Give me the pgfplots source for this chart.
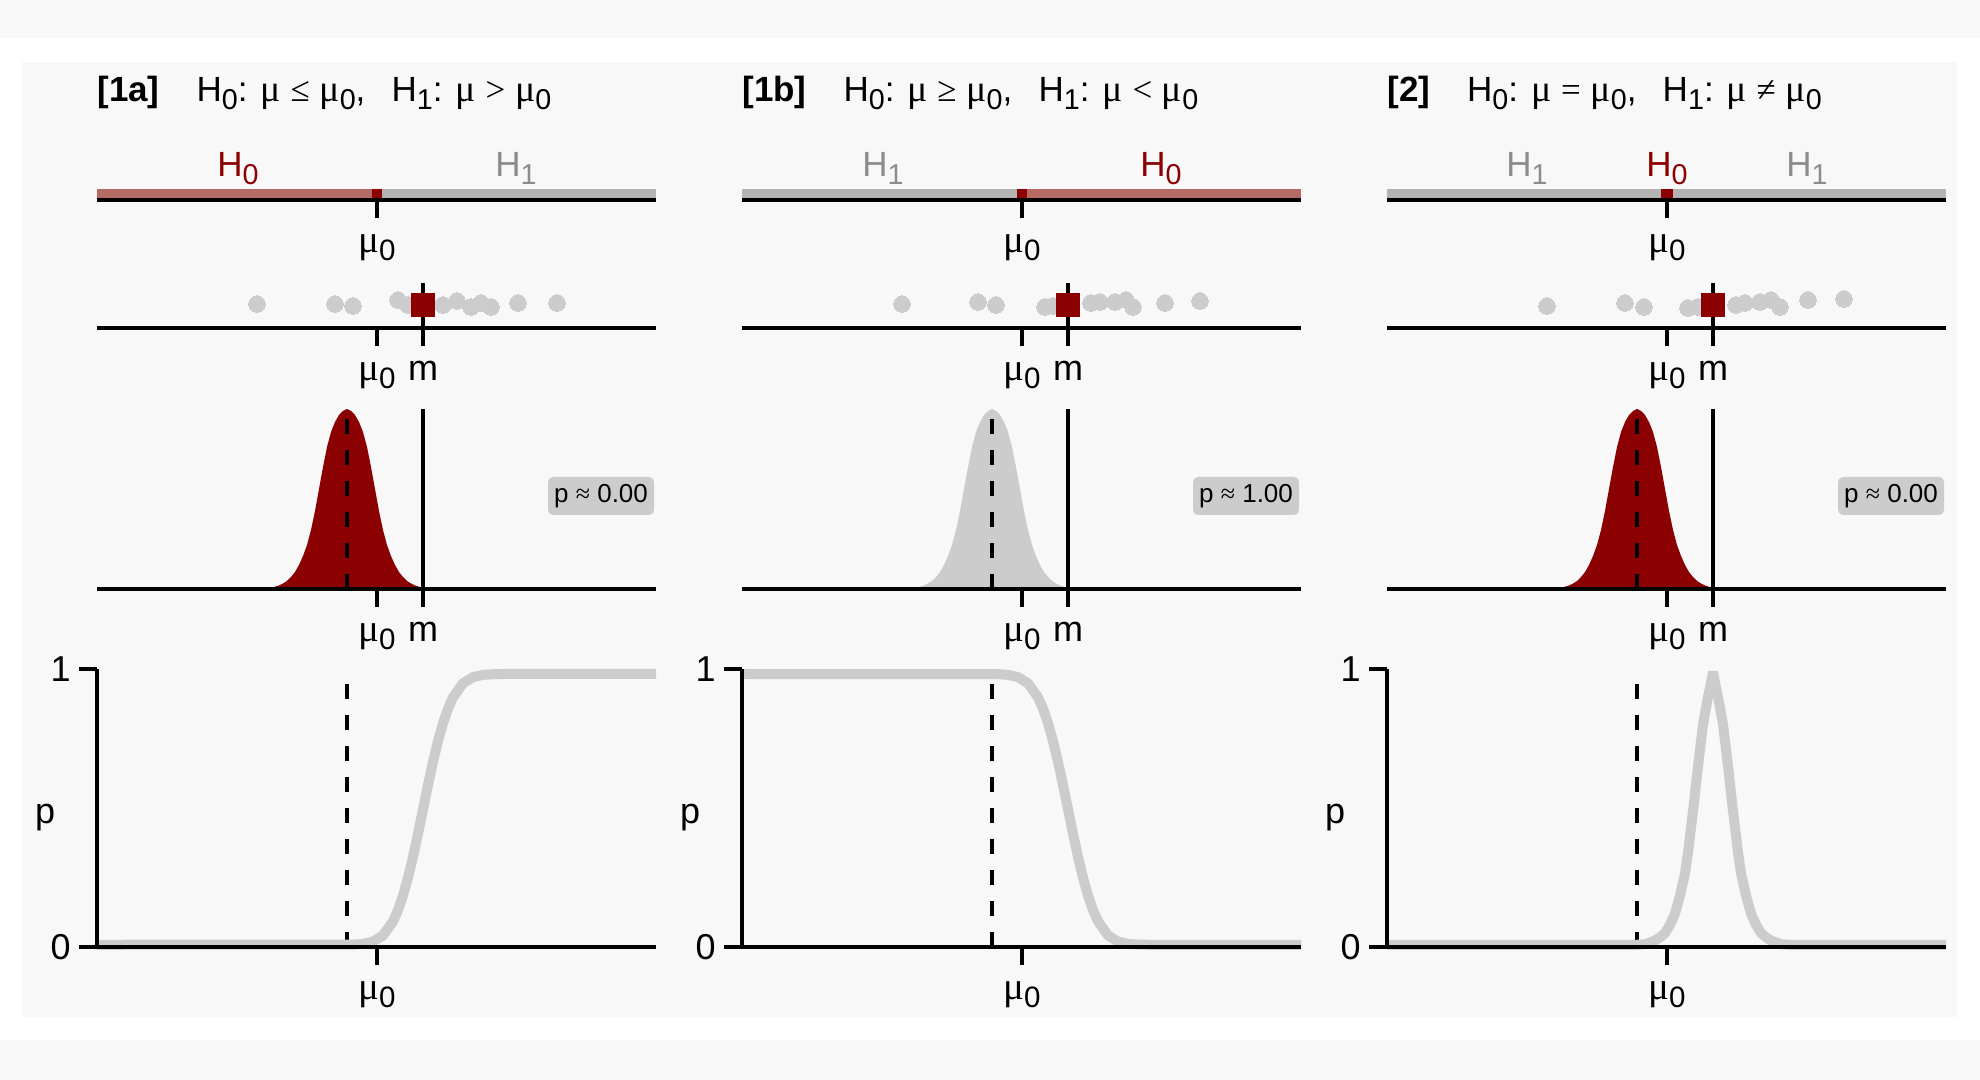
\documentclass[border=0pt]{standalone}
\usepackage{pgfplots}
\pgfplotsset{compat=1.18}
\usepackage{fontspec}
\usepackage{graphicx}
\setmainfont{Liberation Sans}
\newfontfamily\sym{Liberation Serif}
\definecolor{dred}{HTML}{8B0000}
\definecolor{bred}{HTML}{B56A64}
\definecolor{bgray}{HTML}{B3B3B3}
\definecolor{lgray}{HTML}{CCCCCC}
\definecolor{hgray}{HTML}{8C8C8C}
\definecolor{panel}{HTML}{F8F8F8}
\newcommand{\sub}[1]{\raisebox{-0.22em}{\scalebox{0.82}{#1}}}
\newcommand{\mug}{{\sym\scalebox{1.08}{μ}}}
\newcommand{\muz}{\mug\sub{0}}
\newcommand{\Hz}{H\sub{0}}
\newcommand{\Ho}{H\sub{1}}
\newcommand{\tfont}{\fontsize{17.5}{21}\selectfont}
\newcommand{\lfont}{\fontsize{18}{21}\selectfont}
\newcommand{\pfont}{\fontsize{13}{15}\selectfont}

\pgfplotsset{
  every non boxed x axis/.style={},
  every non boxed y axis/.style={},
  base/.style={scale only axis, width=279.5pt, xmin=-280, xmax=279, clip=false,
    enlargelimits=false, axis on top, anchor=south west,
    axis x line=bottom,
    axis line style={-, line width=1.8pt, black},
    x axis line style={-}, y axis line style={-},
    tick style={line width=1.8pt, black}, major tick length=9pt, tick align=outside,
    tick label style={font=\lfont, inner sep=0pt},
    xticklabel style={anchor=base, yshift=-17.5pt},
    yticklabel style={anchor=east, xshift=-4pt}},
  row1/.style={base, height=25pt, ymin=0, ymax=50, axis y line=none, ytick=\empty,
    xtick={0}, xticklabels={\muz}},
  row2/.style={base, height=30pt, ymin=0, ymax=60, axis y line=none, ytick=\empty,
    xtick={0,46}, xticklabels={\muz, m}},
  row3/.style={base, height=90pt, ymin=0, ymax=180, axis y line=none, ytick=\empty,
    xtick={0,46}, xticklabels={\muz, m}},
  row4/.style={base, height=139pt, ymin=0, ymax=1, axis y line=left,
    xtick={0}, xticklabels={\muz}, ytick={0,1}, yticklabels={0,1},
    ylabel={p}, ylabel style={rotate=-90, font=\lfont, at={(axis description cs:-0.093,0.464)}, anchor=center}},
  pts/.style={only marks, color=lgray, mark=*, mark size=4.15pt, mark options={draw=lgray, fill=lgray, line width=0pt}},
  msq/.style={only marks, color=dred, mark=square*, mark size=5.8pt, mark options={draw=dred, fill=dred, line width=0pt}},
  vline/.style={black, line width=1.8pt},
  dline/.style={black, line width=1.8pt, dash pattern=on 7.5pt off 8pt},
  pcurve/.style={lgray, line width=5pt, line join=bevel},
}

\pgfplotstableread{
x y
-103 0
-103 2
-98 3.5
-94 5.5
-90 8
-86 12
-82 17
-78 24
-74 33
-70 44
-66 59
-62 78
-58 100
-54 122
-50 142
-46 157
-42 167
-38 174
-34 178
-30 180
-26 178
-22 174
-18 167
-14 157
-10 142
-6 122
-2 100
2 78
6 59
10 44
14 33
18 24
22 17
26 12
30 8
34 5.5
38 3.5
43 2
43 0
}\dens

\pgfplotstableread{
x y
-280 0.008
-24 0.0087
-14 0.0111
-4 0.0192
6 0.0416
16 0.0921
21 0.1327
26 0.185
31 0.2493
36 0.3243
41 0.4073
46 0.495
51 0.5827
56 0.6657
61 0.7407
66 0.805
71 0.8573
76 0.898
86 0.9484
96 0.9708
106 0.9789
116 0.9813
126 0.982
279 0.982
}\pa

\pgfplotstableread{
x y
-280 0.982
-24 0.9813
-14 0.9789
-4 0.9708
6 0.9484
16 0.898
21 0.8573
26 0.805
31 0.7407
36 0.6657
41 0.5827
46 0.495
51 0.4073
56 0.3243
61 0.2493
66 0.185
71 0.1327
76 0.0921
86 0.0416
96 0.0192
106 0.0111
116 0.0087
126 0.008
279 0.008
}\pb

\pgfplotstableread{
x y
-280 0.008
-30 0.008
-22 0.010
-14 0.02
-8 0.032
-2 0.05
3 0.08
8 0.12
13 0.185
18 0.265
21 0.34
24 0.43
27 0.52
30 0.62
33 0.71
36 0.80
38.5 0.85
41 0.90
43.5 0.94
46 0.99
48.5 0.94
51 0.90
53.5 0.85
56 0.80
59 0.71
62 0.62
65 0.52
68 0.43
71 0.34
74 0.265
79 0.185
84 0.12
89 0.08
94 0.05
100 0.032
106 0.02
114 0.010
122 0.008
279 0.008
}\pc

\begin{document}
\begin{tikzpicture}
\useasboundingbox (0,0) rectangle (990pt,540pt);
\fill[white] (0,0) rectangle (990pt,540pt);
\fill[panel] (0,521pt) rectangle (990pt,540pt);
\fill[panel] (0,0) rectangle (990pt,20pt);
\fill[panel] (11pt,31.5pt) rectangle (978.5pt,509pt);

% titles
\node[anchor=base west, font=\tfont, inner sep=0pt] at (48.5pt,489pt)
  {\textbf{[1a]}\hspace{18.5pt}\Hz: \mug{} {\sym ≤} \muz,\hspace{0.75em}\Ho: \mug{} {\sym >} \muz};
\node[anchor=base west, font=\tfont, inner sep=0pt] at (371pt,489pt)
  {\textbf{[1b]}\hspace{18.5pt}\Hz: \mug{} {\sym ≥} \muz,\hspace{0.75em}\Ho: \mug{} {\sym <} \muz};
\node[anchor=base west, font=\tfont, inner sep=0pt] at (693.5pt,489pt)
  {\textbf{[2]}\hspace{18.5pt}\Hz: \mug{} {\sym =} \muz,\hspace{0.75em}\Ho: \mug{} {\sym ≠} \muz};

% ================= column 1 =================
\begin{axis}[row1, at={(48.5pt,440pt)}]
\addplot[fill=bred, draw=none] coordinates {(-280,1.8) (0,1.8) (0,11) (-280,11)} -- cycle;
\addplot[fill=bgray, draw=none] coordinates {(0,1.8) (279,1.8) (279,11) (0,11)} -- cycle;
\addplot[fill=dred, draw=none] coordinates {(-5,1.8) (5,1.8) (5,11) (-5,11)} -- cycle;
\node[anchor=base, text=dred, font=\tfont, inner sep=0pt] at (axis cs:-139,23) {\Hz};
\node[anchor=base, text=hgray, font=\tfont, inner sep=0pt] at (axis cs:139,23) {\Ho};
\end{axis}
\begin{axis}[row2, at={(48.5pt,376pt)}]
\addplot[pts] coordinates {(-120,24) (-42,24) (-24,22) (21,28) (31,23) (66,23) (80,27) (94,21) (104,25) (114,21) (141,25) (180,25)};
\addplot[vline] coordinates {(46,0) (46,45)};
\addplot[msq] coordinates {(46,23)};
\end{axis}
\begin{axis}[row3, at={(48.5pt,245.5pt)}]
\addplot[fill=dred, draw=none] table {\dens} -- cycle;
\addplot[dline] coordinates {(-30,0) (-30,180)};
\addplot[vline] coordinates {(46,0) (46,180)};
\node[fill=lgray, rounded corners=2.5pt, minimum width=53pt, minimum height=19pt, inner sep=0pt, font=\pfont] at (axis cs:224,93) {p {\sym ≈} 0.00};
\end{axis}
\begin{axis}[row4, at={(48.5pt,66.5pt)}]
\addplot[dline] coordinates {(-30,0) (-30,1)};
\addplot[pcurve] table {\pa};
\end{axis}

% ================= column 2 =================
\begin{axis}[row1, at={(371pt,440pt)}]
\addplot[fill=bgray, draw=none] coordinates {(-280,1.8) (0,1.8) (0,11) (-280,11)} -- cycle;
\addplot[fill=bred, draw=none] coordinates {(0,1.8) (279,1.8) (279,11) (0,11)} -- cycle;
\addplot[fill=dred, draw=none] coordinates {(-5,1.8) (5,1.8) (5,11) (-5,11)} -- cycle;
\node[anchor=base, text=hgray, font=\tfont, inner sep=0pt] at (axis cs:-139,23) {\Ho};
\node[anchor=base, text=dred, font=\tfont, inner sep=0pt] at (axis cs:139,23) {\Hz};
\end{axis}
\begin{axis}[row2, at={(371pt,376pt)}]
\addplot[pts] coordinates {(-120,24) (-44,26) (-26,23) (23,21) (31,22) (69,25) (78,26) (93,26) (104,28) (111,21) (143,25) (178,27)};
\addplot[vline] coordinates {(46,0) (46,45)};
\addplot[msq] coordinates {(46,23)};
\end{axis}
\begin{axis}[row3, at={(371pt,245.5pt)}]
\addplot[fill=lgray, draw=none] table {\dens} -- cycle;
\addplot[dline] coordinates {(-30,0) (-30,180)};
\addplot[vline] coordinates {(46,0) (46,180)};
\node[fill=lgray, rounded corners=2.5pt, minimum width=53pt, minimum height=19pt, inner sep=0pt, font=\pfont] at (axis cs:224,93) {p {\sym ≈} 1.00};
\end{axis}
\begin{axis}[row4, at={(371pt,66.5pt)}]
\addplot[dline] coordinates {(-30,0) (-30,1)};
\addplot[pcurve] table {\pb};
\end{axis}

% ================= column 3 =================
\begin{axis}[row1, at={(693.5pt,440pt)}]
\addplot[fill=bgray, draw=none] coordinates {(-280,1.8) (279,1.8) (279,11) (-280,11)} -- cycle;
\addplot[fill=dred, draw=none] coordinates {(-6,1.8) (6,1.8) (6,11) (-6,11)} -- cycle;
\node[anchor=base, text=hgray, font=\tfont, inner sep=0pt] at (axis cs:-140,23) {\Ho};
\node[anchor=base, text=dred, font=\tfont, inner sep=0pt] at (axis cs:0,23) {\Hz};
\node[anchor=base, text=hgray, font=\tfont, inner sep=0pt] at (axis cs:140,23) {\Ho};
\end{axis}
\begin{axis}[row2, at={(693.5pt,376pt)}]
\addplot[pts] coordinates {(-120,22) (-42,25) (-23,21) (21,20) (31,21) (69,23) (78,25) (93,26) (104,28) (113,21) (141,28) (177,29)};
\addplot[vline] coordinates {(46,0) (46,45)};
\addplot[msq] coordinates {(46,23)};
\end{axis}
\begin{axis}[row3, at={(693.5pt,245.5pt)}]
\addplot[fill=dred, draw=none] table {\dens} -- cycle;
\addplot[dline] coordinates {(-30,0) (-30,180)};
\addplot[vline] coordinates {(46,0) (46,180)};
\node[fill=lgray, rounded corners=2.5pt, minimum width=53pt, minimum height=19pt, inner sep=0pt, font=\pfont] at (axis cs:224,93) {p {\sym ≈} 0.00};
\end{axis}
\begin{axis}[row4, at={(693.5pt,66.5pt)}]
\addplot[dline] coordinates {(-30,0) (-30,1)};
\addplot[pcurve] table {\pc};
\end{axis}
\end{tikzpicture}
\end{document}
